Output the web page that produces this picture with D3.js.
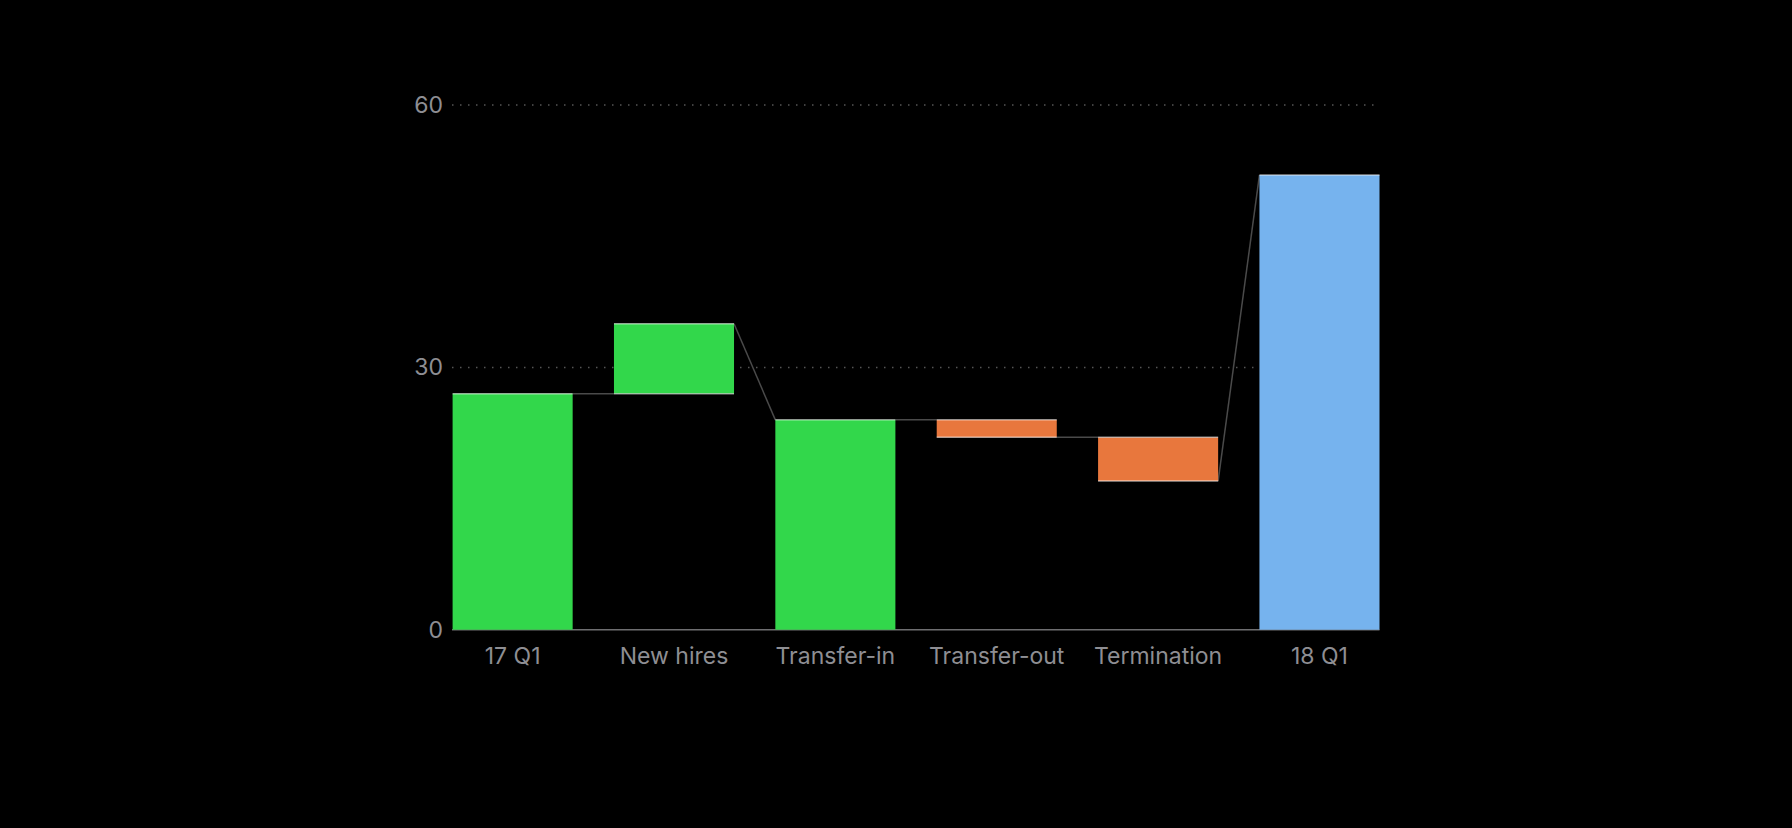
<!DOCTYPE html>
<html>
<head>
<meta charset="UTF-8" />
<script src="https://d3js.org/d3.v7.min.js"></script>
<style>
  body { margin: 0; background: #000; }
  text { font-family: "Inter", "Noto Sans", sans-serif; }
</style>
</head>
<body>
<svg id="chart" width="1792" height="828"></svg>
<script>
  // waterfall data
  const categories = ["17 Q1", "New hires", "Transfer-in", "Transfer-out", "Termination", "18 Q1"];
  const startValues = [0, 27, 0, 24, 22, 0];
  const endValues = [27, 35, 24, 22, 17, 52];
  const kinds = ["up", "up", "up", "down", "down", "total"];
  const yTicks = [0, 30, 60];

  const colors = { up: "#32d74b", down: "#e8773d", total: "#76b3ee" };

  const svg = d3.select("#chart");

  const x = d3.scaleBand()
    .domain(categories)
    .range([452.6, 1379.5])
    .paddingInner(0.256)
    .paddingOuter(0);

  const y = d3.scaleLinear().domain([0, 60]).range([629.7, 105.1]);

  // gridlines
  svg.selectAll(".grid")
    .data(yTicks.filter(d => d > 0))
    .enter().append("line")
    .attr("x1", 452).attr("x2", 1377)
    .attr("y1", d => y(d)).attr("y2", d => y(d))
    .attr("stroke", "#555")
    .attr("stroke-width", 1.5)
    .attr("stroke-dasharray", "1.5,6.5");

  // tick labels
  svg.selectAll(".ytick")
    .data(yTicks)
    .enter().append("text")
    .attr("x", 443)
    .attr("y", d => y(d))
    .attr("dy", "0.35em")
    .attr("text-anchor", "end")
    .attr("fill", "#8e8e93")
    .attr("font-size", 23)
    .text(d => d);

  // connectors
  const links = categories.slice(0, -1).map((c, i) => ({
    x1: x(c) + x.bandwidth(),
    y1: y(endValues[i]),
    x2: x(categories[i + 1]),
    y2: y(kinds[i + 1] === "total" || startValues[i + 1] === 0 ? endValues[i + 1] : startValues[i + 1])
  }));
  svg.selectAll(".link")
    .data(links)
    .enter().append("line")
    .attr("x1", d => d.x1).attr("y1", d => d.y1)
    .attr("x2", d => d.x2).attr("y2", d => d.y2)
    .attr("stroke", "#4a4a4a")
    .attr("stroke-width", 1.5);

  // baseline
  svg.append("line")
    .attr("x1", 452).attr("x2", 1379.5)
    .attr("y1", y(0)).attr("y2", y(0))
    .attr("stroke", "#6e6e70")
    .attr("stroke-width", 1.5);

  const bars = categories.map((c, i) => ({
    c, kind: kinds[i],
    lo: Math.min(startValues[i], endValues[i]),
    hi: Math.max(startValues[i], endValues[i])
  }));

  svg.selectAll(".bar")
    .data(bars)
    .enter().append("rect")
    .attr("x", d => x(d.c))
    .attr("width", x.bandwidth())
    .attr("y", d => y(d.hi))
    .attr("height", d => y(d.lo) - y(d.hi))
    .attr("fill", d => colors[d.kind]);

  // light edge lines on bars
  const edges = [];
  bars.forEach(d => {
    edges.push({ c: d.c, v: d.hi });
    if (d.lo > 0) edges.push({ c: d.c, v: d.lo });
  });
  svg.selectAll(".edge")
    .data(edges)
    .enter().append("line")
    .attr("x1", d => x(d.c)).attr("x2", d => x(d.c) + x.bandwidth())
    .attr("y1", d => y(d.v)).attr("y2", d => y(d.v))
    .attr("stroke", "rgba(255,255,255,0.55)")
    .attr("stroke-width", 1.5);

  // category labels
  svg.selectAll(".xlabel")
    .data(categories)
    .enter().append("text")
    .attr("x", d => x(d) + x.bandwidth() / 2)
    .attr("y", 664)
    .attr("text-anchor", "middle")
    .attr("fill", "#8e8e93")
    .attr("font-size", 23)
    .text(d => d);
</script>
</body>
</html>
